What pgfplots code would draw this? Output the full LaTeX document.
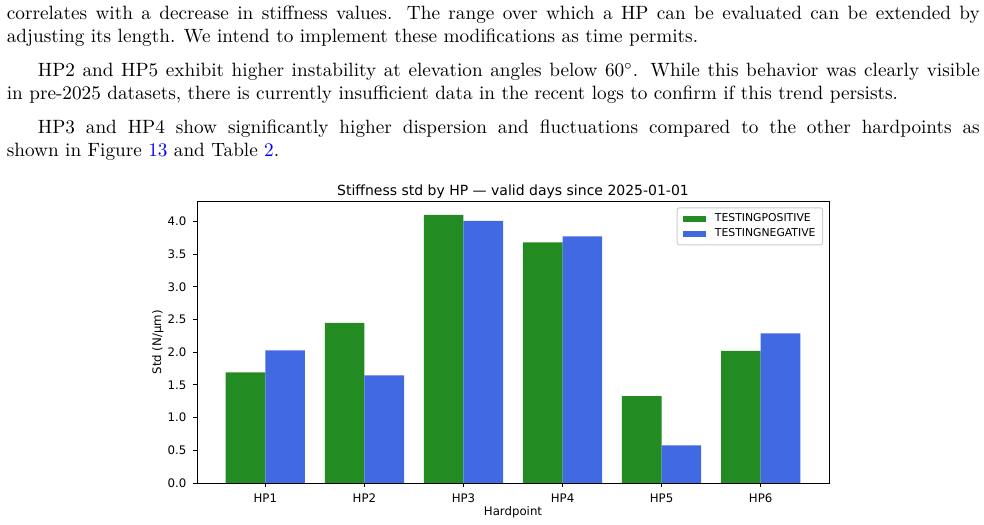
\documentclass[border=0pt]{standalone}
\usepackage{pgfplots}
\pgfplotsset{compat=1.18}
\usepackage{fontspec}
\newfontfamily\dejavu{DejaVu Sans}
\definecolor{hpgreen}{HTML}{228B22}
\definecolor{hpblue}{HTML}{4169E1}
\definecolor{legedge}{HTML}{CCCCCC}

\begin{document}
\begin{tikzpicture}[x=0.5357pt,y=0.5357pt]
\path[use as bounding box] (0,0) rectangle (984,-524);

% running text above the figure
\node[anchor=base west, inner sep=0pt] at (6.5,-20) {\parbox[t]{521.2pt}{%
\fontsize{10.3}{12.2}\selectfont
\setlength{\parindent}{16.6pt}\setlength{\parskip}{6pt}%
\noindent correlates with a decrease in stiffness values. The range over which a HP can be evaluated can be extended by\linebreak
adjusting its length. We intend to implement these modifications as time permits.\par
HP2 and HP5 exhibit higher instability at elevation angles below 60$^\circ$. While this behavior was clearly visible\linebreak
in pre-2025 datasets, there is currently insufficient data in the recent logs to confirm if this trend persists.\par
HP3 and HP4 show significantly higher dispersion and fluctuations compared to the other hardpoints as\linebreak
shown in Figure \textcolor{blue}{13} and Table \textcolor{blue}{2}.}};

\begin{axis}[
  at={(105.53pt,-258.74pt)}, anchor=south west,
  scale only axis, width=338.56pt, height=150.80pt,
  xmin=-0.69, xmax=5.69, ymin=0, ymax=4.305,
  xtick={0,1,2,3,4,5},
  xticklabels={HP1,HP2,HP3,HP4,HP5,HP6},
  ytick={0,0.5,1,1.5,2,2.5,3,3.5,4},
  yticklabel style={/pgf/number format/.cd, fixed, fixed zerofill, precision=1},
  /pgf/number format/assume math mode=true,
  tick align=outside, xtick pos=left, ytick pos=left,
  major tick length=2.14pt,
  every tick/.style={black, line width=0.5pt},
  axis line style={line width=0.5pt},
  ticklabel style={font=\dejavu\fontsize{6.3}{7.5}\selectfont},
  label style={font=\dejavu\fontsize{6.3}{7.5}\selectfont},
  title={Stiffness std by HP — valid days since 2025-01-01},
  every axis title/.style={at={(0.5,1)}, anchor=base, yshift=3.0pt,
    font=\dejavu\fontsize{7.5}{9}\selectfont},
  xlabel={Hardpoint},
  ylabel={Std (N/μm)},
  xlabel style={at={(axis description cs:0.5,-0.103)}, anchor=center},
  ylabel style={at={(axis description cs:-0.0617,0.5)}, anchor=center},
  legend cell align=left,
  legend style={at={(1,1)}, anchor=north east, xshift=-3.16pt, yshift=-3.16pt,
    draw=legedge, line width=0.5pt, rounded corners=1.2pt, fill=white,
    font=\dejavu\fontsize{5.8}{7}\selectfont,
    inner xsep=3.4pt, inner ysep=2.6pt, row sep=1.4pt,
    nodes={inner sep=0.4pt},
    /tikz/every odd column/.append style={column sep=4.4pt}},
]
\addplot[ybar, bar width=0.4, bar shift=-0.2, fill=hpgreen, draw=none,
  legend image code/.code={\fill[hpgreen, sharp corners] (0pt,-1.65pt) rectangle (12.1pt,1.65pt);}]
  coordinates {(0,1.69) (1,2.45) (2,4.10) (3,3.68) (4,1.33) (5,2.02)};
\addlegendentry{TESTINGPOSITIVE}
\addplot[ybar, bar width=0.4, bar shift=0.2, fill=hpblue, draw=none,
  legend image code/.code={\fill[hpblue, sharp corners] (0pt,-1.65pt) rectangle (12.1pt,1.65pt);}]
  coordinates {(0,2.03) (1,1.645) (2,4.01) (3,3.77) (4,0.575) (5,2.29)};
\addlegendentry{TESTINGNEGATIVE}
\end{axis}
\end{tikzpicture}
\end{document}
